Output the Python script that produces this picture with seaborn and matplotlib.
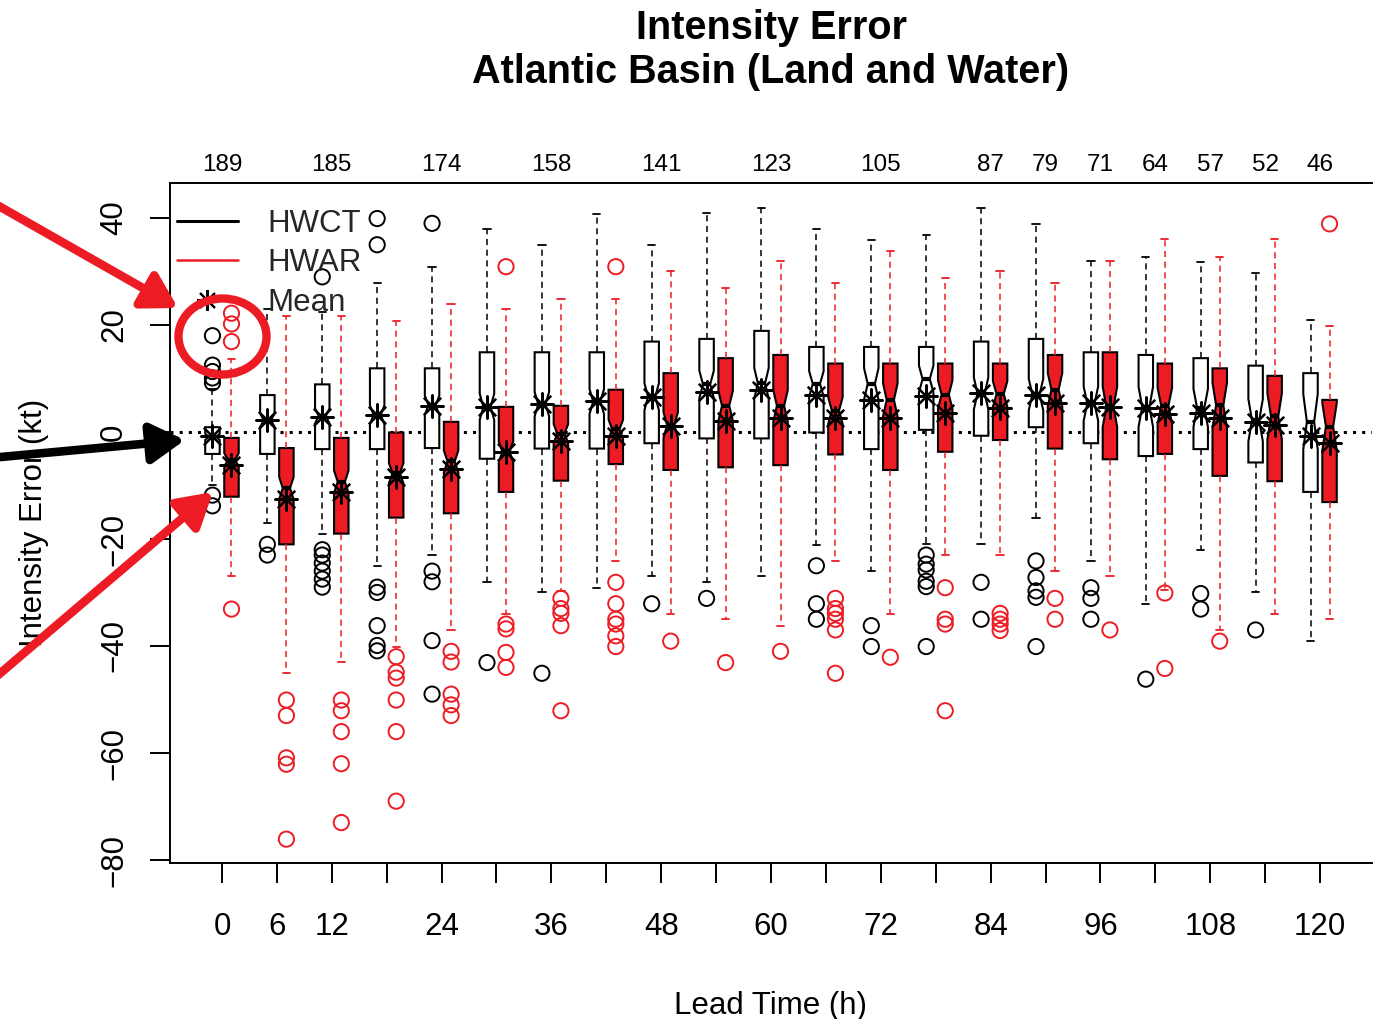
import numpy as np
import pandas as pd
import matplotlib
matplotlib.use("Agg")
import matplotlib.pyplot as plt
from matplotlib.lines import Line2D
from matplotlib.patches import Ellipse, FancyArrowPatch
from matplotlib.transforms import IdentityTransform
import seaborn as sns

# ---------------------------------------------------------------- data
lead_hours = [0, 6, 12, 18, 24, 30, 36, 42, 48, 54, 60, 66, 72, 78, 84, 90, 96, 102, 108, 114, 120]
case_counts = [189, 187, 185, 180, 174, 166, 158, 150, 141, 132, 123, 114, 105, 96, 87, 79, 71, 64, 57, 52, 46]
top_labels = ["189", "", "185", "", "174", "", "158", "", "141", "", "123", "", "105", "",
              "87", "79", "71", "64", "57", "52", "46"]
bottom_labels = ["0", "6", "12", "", "24", "", "36", "", "48", "", "60", "", "72", "",
                 "84", "", "96", "", "108", "", "120"]
y_ticks = [40, 20, 0, -20, -40, -60, -80]

# HWCT box statistics (kt)
hwct_low = [-10, -17, -19, -25, -23, -28.1, -30, -29.1, -27, -28.1, -27, -21.1, -26, -21, -21, -16.1, -24.1, -32.1, -22.1, -30, -39]
hwct_q1 = [-4.1, -4.1, -3.2, -3.2, -3, -5, -3.1, -3.1, -2.1, -1.2, -1.2, -0.1, -3.2, 0.4, -0.7, 0.9, -2.1, -4.5, -3.2, -5.7, -11.2]
hwct_med = [-0.9, 2.2, 3.0, 3.2, 5, 4.7, 5.2, 5.7, 6.6, 8.9, 9.1, 9, 9, 9.9, 7.2, 7, 5.3, 4.7, 4.5, 2.2, 1.9]
hwct_q3 = [0.9, 6.9, 8.9, 11.9, 11.9, 14.9, 14.9, 14.9, 16.9, 17.4, 18.9, 15.9, 15.9, 15.9, 16.9, 17.4, 14.9, 14.4, 13.8, 12.4, 11]
hwct_high = [8, 23, 22.5, 27.8, 30.8, 37.9, 35, 40.7, 35, 40.9, 41.8, 37.9, 35.9, 36.9, 41.8, 38.9, 32, 32.8, 31.8, 29.8, 20.9]
hwct_mean = [-0.8, 2.2, 2.8, 3.2, 4.9, 4.7, 5.2, 5.7, 6.6, 7.4, 7.9, 6.9, 6, 6.7, 7.2, 6.9, 5.4, 4.5, 3.6, 1.9, -0.7]
hwct_outliers = [
    [18, 12.5, 11.3, 10.1, 9.2, -11.8, -13.8],
    [-21, -23],
    [29, -22, -23, -24.5, -26, -27.5, -29],
    [39.9, 35, -29, -30, -36.2, -39.9, -40.9],
    [39, -26, -28, -39, -49],
    [-43.1],
    [-45.1],
    [],
    [-32.1],
    [-31.1],
    [],
    [-25, -32.1, -35],
    [-36.2, -40.1],
    [-23, -24.7, -25.8, -27.9, -28.9, -40.1],
    [-28.1, -35],
    [-24.1, -27.2, -29.7, -30.9, -40.1],
    [-29.1, -31.1, -35],
    [-46.2],
    [-30.2, -33.1],
    [-37],
    [],
]

# HWAR box statistics (kt)
hwar_low = [-27, -45, -43, -40.1, -37, -34, -29.8, -24.1, -34.1, -35, -36.2, -24.1, -34.1, -23, -23, -26, -27, -29.5, -37.1, -34.1, -35]
hwar_q1 = [-12.1, -21, -19, -16, -15.2, -11.2, -9.1, -6, -7.1, -6.6, -6.2, -4.2, -7.1, -3.7, -1.5, -3.1, -5.1, -4.1, -8.2, -9.2, -13.1]
hwar_med = [-5.2, -10.5, -9.3, -7.7, -5.5, -3.7, -0.3, 0.5, 1.3, 4.9, 4.9, 4, 6, 7, 7.1, 7.9, 4.7, 4.9, 5, 2.9, 1]
hwar_q3 = [-1.1, -3, -1.1, -0.1, 1.9, 4.7, 4.9, 7.9, 11, 13.8, 14.4, 12.8, 12.8, 12.8, 12.8, 14.4, 14.9, 12.8, 11.9, 10.5, 6]
hwar_high = [13.6, 21.7, 21.7, 20.8, 23.9, 22.9, 24.9, 24.9, 30, 26.9, 32, 27.9, 33.8, 28.8, 30, 27.9, 32, 36, 32.8, 36, 19.9]
hwar_mean = [-6.2, -12.5, -11.2, -8.5, -7, -3.8, -1.6, -0.7, 1.1, 2.1, 2.6, 2.6, 2.7, 3.5, 4.4, 5.4, 4.6, 3.4, 2.7, 1.4, -2]
hwar_outliers = [
    [22.2, 20.2, 16.9, -33.1],
    [-50.1, -53, -60.9, -62.1, -76.1],
    [-50.1, -52.1, -56, -62, -73],
    [-42, -44.9, -46, -50.1, -56, -69],
    [-41, -43, -49, -51, -53],
    [30.9, -35.9, -36.8, -41.2, -44],
    [-31.1, -33, -33.9, -36.2, -52.1],
    [30.9, -28.1, -32.1, -35, -35.9, -38.1, -40.1],
    [-39.1],
    [-43.1],
    [-41],
    [-31.1, -33, -33.9, -35, -37, -45.1],
    [-42.1],
    [-29.1, -35, -35.9, -52.1],
    [-33.9, -35, -35.9, -37.1],
    [-31.1, -35],
    [-37],
    [-30.1, -44.2],
    [-39.1],
    [],
    [38.9],
]

# ---------------------------------------------------------------- style
RED = "#ed1c24"
sns.set_theme(style="ticks")
plt.rcParams["font.family"] = ["Liberation Sans", "DejaVu Sans"]
plt.rcParams["axes.linewidth"] = 1.4

W, H = 1373, 1019
fig = plt.figure(figsize=(W / 100, H / 100), dpi=100)
ax = fig.add_axes([170 / W, 1 - 863 / H, (1372 - 170) / W, (863 - 183) / H])

BOX_W = 1.58
SHIFT = 1.04


def box_stats(low, q1, med, q3, high, counts):
    out = []
    for lo, a, m, b, hi, n in zip(low, q1, med, q3, high, counts):
        half = 1.58 * (b - a) / np.sqrt(n)
        out.append(dict(whislo=lo, q1=a, med=m, q3=b, whishi=hi,
                        cilo=m - half, cihi=m + half, fliers=[]))
    return out


ax.axhline(0, color="black", lw=2.2, linestyle=(0, (1, 2)), zorder=1)

series = [
    ("HWCT", -SHIFT, "white", "black",
     box_stats(hwct_low, hwct_q1, hwct_med, hwct_q3, hwct_high, case_counts),
     hwct_mean, hwct_outliers),
    ("HWAR", SHIFT, RED, RED,
     box_stats(hwar_low, hwar_q1, hwar_med, hwar_q3, hwar_high, case_counts),
     hwar_mean, hwar_outliers),
]

mean_rows, out_rows = [], []
for name, shift, fill, line_col, stats, means, outs in series:
    pos = [h + shift for h in lead_hours]
    ax.bxp(stats, positions=pos, widths=BOX_W, capwidths=0.8,
           shownotches=True, patch_artist=True, showfliers=False,
           manage_ticks=False,
           boxprops=dict(facecolor=fill, edgecolor="black", linewidth=1.5),
           whiskerprops=dict(color=line_col, linewidth=1.1, linestyle=(0, (4, 3))),
           capprops=dict(color=line_col, linewidth=1.3),
           medianprops=dict(color="black", linewidth=3, solid_capstyle="butt"),
           zorder=3)
    for p, m in zip(pos, means):
        mean_rows.append(dict(model=name, pos=p, value=m))
    for p, vals in zip(pos, outs):
        for v in vals:
            out_rows.append(dict(model=name, pos=p, value=v))

means_df = pd.DataFrame(mean_rows)
outs_df = pd.DataFrame(out_rows)

for name, col in [("HWCT", "black"), ("HWAR", RED)]:
    sub = outs_df[outs_df["model"] == name]
    sns.scatterplot(data=sub, x="pos", y="value", marker="o", s=120,
                    facecolor="none", edgecolor=col, linewidth=1.4,
                    ax=ax, legend=False, zorder=4)

sns.scatterplot(data=means_df, x="pos", y="value", marker=(8, 2, 0), s=260,
                color="black", linewidth=1.6, ax=ax, legend=False, zorder=6)

# ---------------------------------------------------------------- axes
ax.set_xlim(-5.68, 125.68)
ax.set_ylim(-80.56, 46.54)
ax.spines["right"].set_visible(False)
for s in ("left", "bottom", "top"):
    ax.spines[s].set_linewidth(1.4)
    ax.spines[s].set_color("black")

ax.set_xticks(lead_hours)
ax.set_xticklabels(bottom_labels)
ax.set_yticks(y_ticks)
ax.tick_params(axis="both", direction="out", length=14.4, width=1.4,
               labelsize=22.5, color="black", labelcolor="black")
ax.tick_params(axis="x", pad=21)
ax.tick_params(axis="y", pad=15, labelrotation=90)
for lbl in ax.get_yticklabels():
    lbl.set_va("center")

top = ax.secondary_xaxis("top")
top.set_xticks(lead_hours)
top.set_xticklabels(top_labels)
top.tick_params(length=0, labelsize=17.5, pad=5, labelcolor="black")
top.spines["top"].set_visible(False)

ax.set_xlabel("Lead Time (h)", fontsize=22.5, color="black", va="center")
ax.xaxis.set_label_coords(0.5, (863 - 1006) / 680)
ax.set_ylabel("Intensity Error (kt)", fontsize=22.5, color="black", va="center")
ax.yaxis.set_label_coords((34 - 170) / 1202, 0.5)

ax.set_title("Intensity Error\nAtlantic Basin (Land and Water)", fontsize=28.5,
             fontweight="bold", linespacing=1.19, y=1 + (183 - 58) / 680,
             va="center", color="black")

handles = [Line2D([], [], color="black", lw=2.2),
           Line2D([], [], color=RED, lw=1.8),
           Line2D([], [], color="black", marker=(8, 2, 0), ms=15, mew=1.5, ls="none")]
ax.legend(handles, ["HWCT", "HWAR", "Mean"], loc="upper left",
          bbox_to_anchor=(7 / 1202, 1 - 26 / 680), frameon=False,
          fontsize=22.5, handlelength=1.95, handletextpad=0.95,
          labelspacing=0.3, borderpad=0, borderaxespad=0)

# ---------------------------------------------------------------- callouts
px = IdentityTransform()


def arrow(tail, tip, color):
    a = FancyArrowPatch((tail[0], H - tail[1]), (tip[0], H - tip[1]),
                        arrowstyle="-|>,head_length=0.85,head_width=0.5",
                        mutation_scale=24, lw=6.2, color=color,
                        shrinkA=0, shrinkB=0, transform=px, zorder=20)
    fig.add_artist(a)


arrow((-10, 201), (178, 308), RED)
arrow((-10, 458), (185, 440), "black")
arrow((-10, 682), (213, 492), RED)
fig.add_artist(Ellipse((222.5, H - 336.5), 88, 76, fill=False, ec=RED, lw=6,
                       transform=px, zorder=20))

fig.savefig("out.png", dpi=100)
